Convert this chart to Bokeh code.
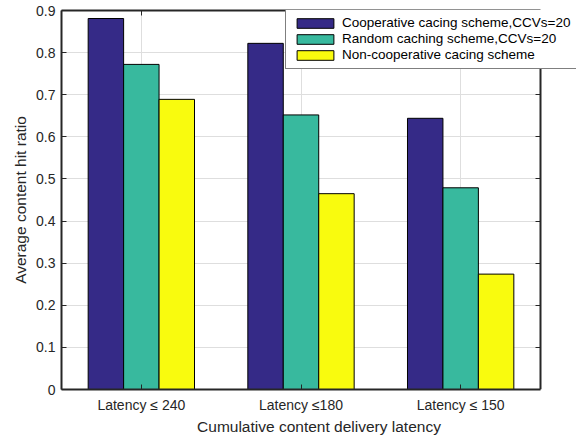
from bokeh.plotting import figure
from bokeh.models import (FixedTicker, LinearAxis, Legend, LegendItem, ColumnDataSource,
                          Range1d, BoxAnnotation)
from bokeh.transform import dodge
from bokeh.embed import file_html
from bokeh.resources import INLINE

groups = [1, 2, 3]
group_labels = ["Latency \u2264 240", "Latency \u2264180", "Latency \u2264 150"]
coop = [0.881, 0.822, 0.644]
rand = [0.772, 0.652, 0.479]
noncoop = [0.689, 0.465, 0.274]
series_names = ["Cooperative cacing scheme,CCVs=20",
                "Random caching scheme,CCVs=20",
                "Non-cooperative cacing scheme"]
colors = ["#352a87", "#38b99e", "#f9fb0e"]
yticks = [0, 0.1, 0.2, 0.3, 0.4, 0.5, 0.6, 0.7, 0.8, 0.9]

src = ColumnDataSource(dict(x=groups, coop=coop, rand=rand, noncoop=noncoop))

FONT = "Liberation Sans"
DARK = "#262626"
# axes box spans 0.5..3.5 over 479 px; the frame is extended to the window edge
# so that the legend may overhang the box as in the reference
XMIN, XMAX = 0.5, 3.5
box_px, frame_px = 479.0, 515.0
x_end = XMIN + (XMAX - XMIN) * frame_px / box_px

p = figure(width=576, height=439, output_backend="svg", toolbar_location=None,
           x_range=Range1d(XMIN, x_end), y_range=Range1d(0, 0.9),
           min_border_left=61, min_border_right=0, min_border_top=10, min_border_bottom=50)

bw = 0.222
renderers = []
for col, off, c in zip(["coop", "rand", "noncoop"], [-bw, 0, bw], colors):
    r = p.vbar(x=dodge("x", off, range=p.x_range), top=col, width=bw, source=src,
               fill_color=c, line_color="black", line_width=1)
    renderers.append(r)


def style_axis(ax):
    ax.major_tick_in = 5
    ax.major_tick_out = 0
    ax.minor_tick_in = 0
    ax.minor_tick_out = 0
    ax.axis_line_color = DARK
    ax.axis_line_width = 2
    ax.major_tick_line_color = DARK
    ax.major_tick_line_width = 1


p.xaxis.ticker = FixedTicker(ticks=groups)
p.xaxis.major_label_overrides = {g: l for g, l in zip(groups, group_labels)}
p.xaxis.bounds = (XMIN, XMAX)
p.yaxis.ticker = FixedTicker(ticks=yticks)
p.yaxis.major_label_overrides = {0: "0"}
for ax in [p.xaxis[0], p.yaxis[0]]:
    style_axis(ax)
    ax.major_label_text_font = FONT
    ax.major_label_text_font_size = "14px"
    ax.major_label_text_color = DARK
    ax.axis_label_text_font = FONT
    ax.axis_label_text_font_size = "15.5px"
    ax.axis_label_text_font_style = "normal"
    ax.axis_label_text_color = DARK
p.xaxis.axis_label = "Cumulative content delivery latency"
p.yaxis.axis_label = "Average content hit ratio"
p.xaxis.major_label_standoff = 7
p.yaxis.major_label_standoff = 6
p.xaxis.axis_label_standoff = 2
p.yaxis.axis_label_standoff = 4

top = LinearAxis(ticker=FixedTicker(ticks=groups), bounds=(XMIN, XMAX),
                 major_label_overrides={g: "" for g in groups},
                 major_label_standoff=0, major_label_text_color=None)
right = LinearAxis(ticker=FixedTicker(ticks=yticks), fixed_location=XMAX,
                   major_label_overrides={t: "" for t in yticks},
                   major_label_standoff=0, major_label_text_color=None)
style_axis(top)
style_axis(right)
p.add_layout(top, "above")
p.add_layout(right, "right")

p.xgrid.ticker = FixedTicker(ticks=groups)
p.ygrid.ticker = FixedTicker(ticks=yticks)
p.grid.grid_line_color = "#dedede"
p.grid.grid_line_width = 1
p.outline_line_color = None

# blank the part of the frame that lies outside the axes box
p.add_layout(BoxAnnotation(left=XMAX, fill_color="white", fill_alpha=1,
                           line_color=None, level="underlay"))

legend = Legend(items=[LegendItem(label=n, renderers=[r]) for n, r in zip(series_names, renderers)],
                location=(224, 320))
legend.label_text_font = FONT
legend.label_text_font_size = "13.5px"
legend.label_text_color = "black"
legend.glyph_width = 46
legend.glyph_height = 12
legend.spacing = 1
legend.padding = 6
legend.margin = 0
legend.label_standoff = 4
legend.label_height = 15
legend.border_line_color = "black"
legend.border_line_width = 1
legend.background_fill_alpha = 1
p.add_layout(legend, "center")

open("out.html", "w").write(file_html(p, INLINE))
